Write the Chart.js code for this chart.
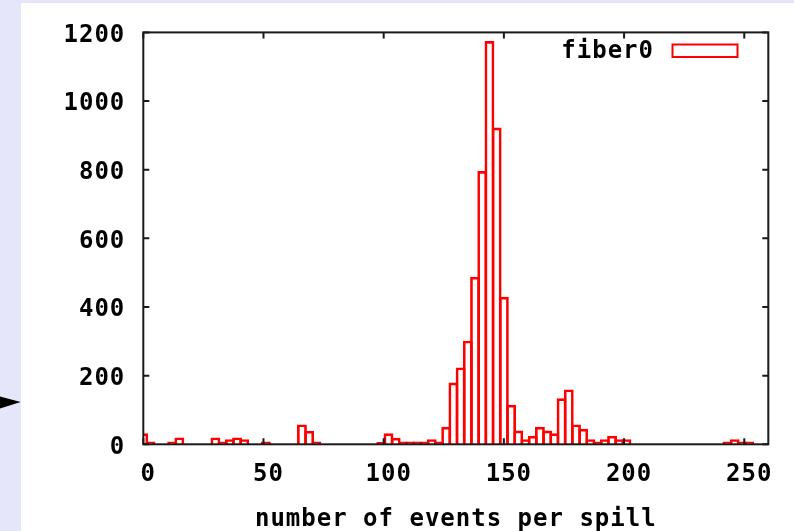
<!DOCTYPE html>
<html>
<head>
<meta charset="utf-8">
<script src="https://cdn.jsdelivr.net/npm/chart.js@4.4.0/dist/chart.umd.min.js"></script>
<style>
  html, body { margin: 0; padding: 0; background: #ffffff; }
  #graphContainer { width: 794px; height: 531px; }
</style>
</head>
<body>
<div id="graphContainer"><canvas id="grafica" width="794" height="531"></canvas></div>
<script>
// centros de bin (eventos por spill), ancho de bin 3
const binCentros = [0, 3, 12, 15, 30, 33, 36, 39, 42, 51, 66, 69, 72,
    99, 102, 105, 108, 111, 114, 117, 120, 123, 126, 129, 132, 135, 138,
    141, 144, 147, 150, 153, 156, 159, 162, 165, 168, 171, 174, 177, 180,
    183, 186, 189, 192, 195, 198, 201, 243, 246, 249, 252];
const conteos = [31, 7, 7, 19, 19, 7, 14, 19, 14, 7, 57, 38, 7,
    6, 31, 18, 7, 7, 7, 7, 14, 7, 50, 179, 223, 301, 487,
    795, 1174, 922, 429, 114, 39, 14, 24, 50, 39, 31, 133, 159, 57,
    44, 14, 7, 14, 24, 14, 14, 7, 14, 7, 7];
const ticksX = [0, 50, 100, 150, 200, 250];
const ticksY = [0, 200, 400, 600, 800, 1000, 1200];
const etiquetaSerie = "fiber0";
const tituloX = "number of events per spill";

const fuente = { family: "'DejaVu Sans Mono', monospace", size: 24, weight: 'bold' };

function espaciado(chart) {
    chart.ctx.letterSpacing = '1px';
}

const marco = {
    id: 'marco',
    beforeUpdate: (chart) => espaciado(chart),
    beforeDraw: (chart) => {
        const ctx = chart.ctx;
        espaciado(chart);
        ctx.save();
        ctx.fillStyle = '#e6e6fa';
        ctx.fillRect(0, 0, chart.width, chart.height);
        ctx.fillStyle = '#ffffff';
        ctx.fillRect(21, 3, chart.width - 21, chart.height - 3);
        // flecha a la izquierda
        ctx.fillStyle = '#000000';
        ctx.beginPath();
        ctx.moveTo(0, 396.5);
        ctx.lineTo(20.7, 402);
        ctx.lineTo(0, 408.5);
        ctx.closePath();
        ctx.fill();
        ctx.restore();
    },
    afterDatasetsDraw: (chart) => {
        const ctx = chart.ctx;
        const a = chart.chartArea;
        const sx = chart.scales.x;
        const sy = chart.scales.y;
        ctx.save();
        ctx.strokeStyle = '#1a1a1a';
        ctx.lineWidth = 2;
        ctx.strokeRect(a.left, a.top, a.right - a.left, a.bottom - a.top);
        ctx.beginPath();
        for (const v of ticksX) {
            const px = sx.getPixelForValue(v);
            ctx.moveTo(px, a.bottom); ctx.lineTo(px, a.bottom - 6);
            ctx.moveTo(px, a.top); ctx.lineTo(px, a.top + 6);
        }
        for (const v of ticksY) {
            const py = sy.getPixelForValue(v);
            ctx.moveTo(a.left, py); ctx.lineTo(a.left + 6, py);
            ctx.moveTo(a.right, py); ctx.lineTo(a.right - 6, py);
        }
        ctx.stroke();

        // leyenda
        ctx.font = `bold ${fuente.size}px ${fuente.family}`;
        ctx.fillStyle = '#000000';
        ctx.textAlign = 'right';
        ctx.textBaseline = 'middle';
        ctx.fillText(chart.data.datasets[0].label, 654, 52);
        ctx.strokeStyle = '#ff0000';
        ctx.lineWidth = 2;
        ctx.strokeRect(672.5, 44.5, 65, 12.5);
        ctx.restore();
    }
};

const config = {
    type: 'bar',
    data: {
        datasets: [{
            label: etiquetaSerie,
            data: binCentros.map((b, i) => ({ x: b, y: conteos[i] })),
            backgroundColor: 'rgba(0,0,0,0)',
            borderColor: '#ff0000',
            borderWidth: 2,
            borderSkipped: 'start',
            barThickness: 9.2,
            clip: 0
        }]
    },
    options: {
        responsive: false,
        animation: false,
        devicePixelRatio: 1,
        layout: { padding: { left: 0, right: 25.7, top: 31.7, bottom: 0 } },
        plugins: { legend: { display: false }, tooltip: { enabled: false } },
        scales: {
            x: {
                type: 'linear',
                offset: false,
                min: 0,
                max: 260,
                grid: { display: false, drawTicks: false, offset: false },
                border: { display: false },
                afterBuildTicks: (scale) => { scale.ticks = ticksX.map(v => ({ value: v })); },
                afterFit: (scale) => { scale.height = 86.7; },
                ticks: { color: '#000000', font: fuente, padding: 16, labelOffset: 5, maxRotation: 0, autoSkip: false,
                         callback: (v) => String(v) },
                title: { display: true, text: tituloX, color: '#000000', font: fuente, padding: { top: 0, bottom: -3 } }
            },
            y: {
                min: 0,
                max: 1200,
                grid: { display: false, drawTicks: false },
                border: { display: false },
                afterBuildTicks: (scale) => { scale.ticks = ticksY.map(v => ({ value: v })); },
                afterFit: (scale) => { scale.width = 143.3; },
                ticks: { color: '#000000', font: fuente, padding: 18, labelOffset: 3, callback: (v) => String(v) }
            }
        }
    },
    plugins: [marco]
};

const ChartPrincipal = new Chart(document.getElementById('grafica'), config);
</script>
</body>
</html>
